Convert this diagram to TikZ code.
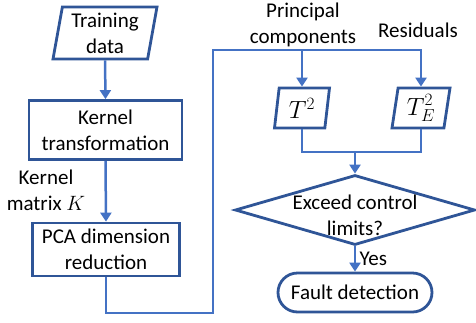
\documentclass[tikz,border=0pt]{standalone}
\usepackage{fontspec}
\setmainfont{Carlito}
\usepackage{tikz}
\usetikzlibrary{shapes.geometric,shapes.misc,arrows.meta}

\definecolor{boxblue}{RGB}{47,85,151}
\definecolor{lineblue}{RGB}{68,114,196}

\tikzset{
every picture/.style={
line width=2.5pt
},
every node/.style={font=\fontsize{21}{26}\selectfont, align=center},
databox/.style={draw=boxblue, line width=2.8pt, trapezium, trapezium left angle=77,
  trapezium right angle=103, trapezium stretches body, inner sep=0pt},
procbox/.style={draw=boxblue, line width=2.8pt, rectangle, inner sep=0pt},
decbox/.style={draw=boxblue, line width=2.8pt, diamond, inner sep=0pt},
endbox/.style={draw=boxblue, line width=2.8pt, rounded rectangle, inner sep=0pt},
conn/.style={draw=lineblue, -{Triangle[width=11pt,length=9pt]}},
link/.style={draw=lineblue},
mathbig/.style={font=\fontsize{23}{26}\selectfont}
}

\begin{document}
\begin{tikzpicture}[x=1pt,y=-1pt]
  \useasboundingbox (0,0) rectangle (476,322);

  % left column
  \node[databox, minimum width=104pt, minimum height=52pt] (train) at (105,33) {Training\\data};
  \node[procbox, minimum width=153pt, minimum height=59pt] (kern) at (105.5,130) {Kernel\\transformation};
  \node[procbox, minimum width=147pt, minimum height=53pt] (pca) at (106,249.5) {PCA dimension\\reduction};
  \node (kmat) at (46,190) {Kernel\\matrix $K$};

  % right column
  \node[databox, mathbig, minimum width=55pt, minimum height=40pt] (tsq) at (302,108) {$T^2$};
  \node[databox, mathbig, minimum width=58pt, minimum height=40pt] (tse) at (421,108) {$T^2_E$};
  \node (pcomp) at (303,25) {Principal\\components};
  \node (resid) at (418,30) {Residuals};
  \node[decbox, minimum width=240pt, minimum height=70pt,
    label={[align=center,yshift=-5pt]center:Exceed control\\limits?}] (exceed) at (355,210) {};
  \node[endbox, minimum width=154pt, minimum height=39pt] (fault) at (355,292.5) {Fault detection};

  \coordinate (low) at (213,313);
  \coordinate (up) at (213,50);
  \coordinate (merge) at (355,152);

  \draw[conn] (train.south) -- (kern.north);
  \draw[conn] (kern.south) -- (pca.north);
  \draw[conn] (pca.south) |- (low) -- (up) -| (tse.north);
  \draw[conn] (tsq.north |- up) -- (tsq.north);
  \draw[link] (tsq.south) |- (merge) -| (tse.south);
  \draw[conn] (merge) -- (exceed.north);
  \draw[conn] (exceed.south) -- node[right] {Yes} (fault.north);
\end{tikzpicture}
\end{document}
